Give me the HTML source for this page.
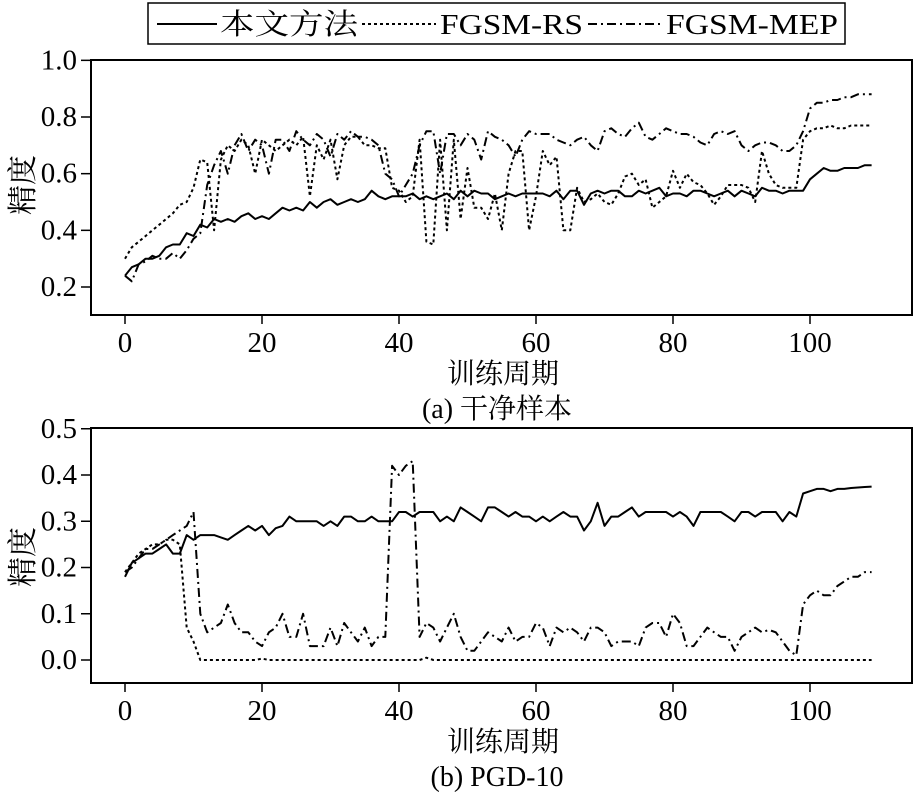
<!DOCTYPE html>
<html><head><meta charset="utf-8"><style>
html,body{margin:0;padding:0;background:#fff;}
svg{display:block;font-family:"Liberation Serif","Noto Serif CJK SC",serif;}
</style></head><body>
<svg id="chart" width="917" height="792" viewBox="0 0 917 792">
<g>
<rect x="148" y="3" width="697" height="41" fill="#fff" stroke="#000" stroke-width="1.5"/>
<line x1="157" y1="24" x2="217" y2="24" stroke="#000" stroke-width="2"/>
<text x="220" y="34" font-size="29" textLength="138" lengthAdjust="spacingAndGlyphs">本文方法</text>
<line x1="362" y1="24" x2="436" y2="24" stroke="#000" stroke-width="2" stroke-dasharray="3,3"/>
<text x="440" y="34" font-size="28" textLength="143" lengthAdjust="spacingAndGlyphs">FGSM-RS</text>
<line x1="588" y1="24" x2="662" y2="24" stroke="#000" stroke-width="2" stroke-dasharray="9,4,2,4"/>
<text x="666" y="34" font-size="28" textLength="172" lengthAdjust="spacingAndGlyphs">FGSM-MEP</text>
</g>
</svg>
<script>
const epochs = Array.from({length:110},(_, i)=>i);
const xTicks = [0,20,40,60,80,100];
const topYTicks = [0.2,0.4,0.6,0.8,1.0];
const topYLabels = ["0.2","0.4","0.6","0.8","1.0"];
const botYTicks = [0.0,0.1,0.2,0.3,0.4,0.5];
const botYLabels = ["0.0","0.1","0.2","0.3","0.4","0.5"];
const cleanOurs = [0.24,0.27,0.28,0.30,0.30,0.31,0.34,0.35,0.35,0.39,0.38,0.42,0.41,0.44,0.43,0.44,0.43,0.45,0.46,0.44,0.45,0.44,0.46,0.48,0.47,0.48,0.47,0.50,0.48,0.50,0.51,0.49,0.50,0.51,0.50,0.51,0.54,0.52,0.51,0.52,0.52,0.52,0.53,0.51,0.52,0.51,0.52,0.53,0.51,0.54,0.52,0.54,0.53,0.53,0.51,0.52,0.53,0.52,0.53,0.53,0.53,0.53,0.52,0.54,0.51,0.54,0.54,0.49,0.53,0.54,0.53,0.54,0.54,0.52,0.52,0.54,0.53,0.54,0.55,0.52,0.53,0.53,0.52,0.54,0.54,0.53,0.52,0.53,0.54,0.52,0.54,0.53,0.52,0.55,0.54,0.54,0.53,0.54,0.54,0.54,0.58,0.60,0.62,0.61,0.61,0.62,0.62,0.62,0.63,0.63];
const cleanRS = [0.30,0.34,0.36,0.38,0.40,0.42,0.44,0.46,0.49,0.50,0.55,0.65,0.64,0.40,0.65,0.70,0.68,0.72,0.70,0.60,0.72,0.70,0.68,0.70,0.72,0.70,0.73,0.52,0.70,0.65,0.72,0.58,0.70,0.73,0.73,0.70,0.70,0.69,0.69,0.55,0.54,0.50,0.52,0.72,0.36,0.35,0.72,0.40,0.72,0.44,0.62,0.48,0.48,0.44,0.53,0.40,0.60,0.68,0.68,0.40,0.52,0.68,0.63,0.66,0.40,0.40,0.55,0.50,0.51,0.53,0.50,0.49,0.53,0.59,0.60,0.56,0.58,0.48,0.50,0.52,0.61,0.55,0.60,0.57,0.56,0.53,0.49,0.52,0.56,0.56,0.56,0.55,0.50,0.68,0.60,0.56,0.55,0.55,0.55,0.72,0.75,0.76,0.76,0.77,0.76,0.76,0.77,0.77,0.77,0.77];
const cleanMEP = [0.24,0.22,0.28,0.29,0.31,0.30,0.30,0.32,0.30,0.33,0.37,0.39,0.56,0.63,0.68,0.60,0.70,0.74,0.68,0.72,0.70,0.60,0.72,0.72,0.68,0.75,0.72,0.70,0.74,0.72,0.66,0.74,0.72,0.75,0.73,0.73,0.72,0.70,0.60,0.58,0.52,0.56,0.60,0.70,0.75,0.75,0.60,0.74,0.74,0.70,0.74,0.72,0.65,0.75,0.73,0.72,0.70,0.66,0.72,0.75,0.74,0.74,0.74,0.72,0.71,0.70,0.72,0.73,0.70,0.68,0.75,0.76,0.74,0.73,0.76,0.78,0.73,0.72,0.74,0.76,0.75,0.74,0.74,0.73,0.71,0.70,0.74,0.75,0.74,0.75,0.70,0.68,0.70,0.71,0.71,0.70,0.68,0.68,0.70,0.75,0.83,0.85,0.85,0.86,0.86,0.87,0.87,0.88,0.88,0.88];
const pgdOurs = [0.18,0.21,0.22,0.23,0.23,0.24,0.25,0.23,0.23,0.27,0.26,0.27,0.27,0.27,0.265,0.26,0.27,0.28,0.29,0.28,0.29,0.27,0.285,0.29,0.31,0.30,0.30,0.30,0.30,0.29,0.30,0.29,0.31,0.31,0.30,0.30,0.31,0.30,0.30,0.30,0.32,0.32,0.31,0.32,0.32,0.32,0.30,0.31,0.30,0.33,0.32,0.31,0.30,0.33,0.33,0.32,0.31,0.32,0.31,0.31,0.30,0.31,0.30,0.31,0.32,0.31,0.31,0.28,0.30,0.34,0.29,0.31,0.31,0.32,0.33,0.31,0.32,0.32,0.32,0.32,0.31,0.32,0.31,0.29,0.32,0.32,0.32,0.32,0.31,0.30,0.32,0.32,0.31,0.32,0.32,0.32,0.30,0.32,0.31,0.36,0.365,0.37,0.37,0.365,0.37,0.37,0.372,0.373,0.374,0.375];
const pgdRS = [0.19,0.21,0.23,0.24,0.25,0.25,0.26,0.26,0.25,0.07,0.04,0.0,0,0,0,0,0,0,0,0,0.003,0,0,0,0,0,0,0,0,0,0,0,0,0,0,0,0,0,0,0,0,0,0,0,0.005,0,0,0,0,0,0,0,0,0,0,0,0,0,0,0,0,0,0,0,0,0,0,0,0,0,0,0,0,0,0,0,0,0,0,0,0,0,0,0,0,0,0,0,0,0,0,0,0,0,0,0,0,0,0,0,0,0,0,0,0,0,0,0,0,0];
const pgdMEP = [0.19,0.20,0.22,0.24,0.24,0.25,0.26,0.27,0.28,0.29,0.32,0.10,0.06,0.07,0.08,0.12,0.08,0.06,0.06,0.04,0.03,0.06,0.07,0.10,0.05,0.05,0.10,0.03,0.03,0.03,0.07,0.03,0.08,0.06,0.04,0.07,0.03,0.05,0.05,0.42,0.40,0.42,0.43,0.05,0.08,0.07,0.04,0.07,0.10,0.05,0.02,0.02,0.04,0.06,0.05,0.04,0.07,0.04,0.05,0.05,0.08,0.07,0.03,0.07,0.06,0.07,0.06,0.04,0.07,0.07,0.06,0.03,0.04,0.04,0.04,0.03,0.07,0.08,0.08,0.05,0.10,0.08,0.03,0.03,0.05,0.07,0.06,0.05,0.05,0.02,0.05,0.06,0.07,0.06,0.065,0.06,0.04,0.02,0.01,0.12,0.14,0.15,0.14,0.14,0.16,0.17,0.18,0.18,0.19,0.19];

const NS="http://www.w3.org/2000/svg";
const svg=document.getElementById('chart');
function mk(tag,attrs,parent){const e=document.createElementNS(NS,tag);for(const k in attrs)e.setAttribute(k,attrs[k]);(parent||svg).appendChild(e);return e;}
const xScale=v=>125+v*6.85;
const styles={ours:"none",rs:"3,3",mep:"9,4,2,4"};

function panel(p){
  const g=mk('g',{});
  
  
  const ys=v=>p.y0+(v-p.v0)*(p.y1-p.y0)/(p.v1-p.v0);
  const box=mk('rect',{x:91,y:p.top,width:821,height:p.bottom-p.top,fill:'none',stroke:'#000','stroke-width':2},g);
  
  
  xTicks.forEach(t=>{
    const l=mk('line',{x1:xScale(t),x2:xScale(t),y1:p.bottom,y2:p.bottom+9,stroke:'#000','stroke-width':1.5},g);
    
    
    const tx=mk('text',{x:xScale(t),y:p.bottom+37,'font-size':29,'text-anchor':'middle'},g);
    tx.textContent=String(t);
    
    
  });
  p.yt.forEach((t,i)=>{
    const l=mk('line',{x1:81,x2:91,y1:ys(t),y2:ys(t),stroke:'#000','stroke-width':1.5},g);
    
    
    const tx=mk('text',{x:77,y:ys(t)+9,'font-size':29,'text-anchor':'end'},g);
    tx.textContent=p.yl[i];
    
    
  });
  p.series.forEach(s=>{
    const d=s.vals.map((v,i)=>(i?'L':'M')+xScale(epochs[i]).toFixed(1)+','+ys(v).toFixed(1)).join(' ');
    const path=mk('path',{d:d,fill:'none',stroke:'#000','stroke-width':2,'stroke-dasharray':styles[s.key],'stroke-linejoin':'round'},g);
    
    
  });
  const yt=mk('text',{x:0,y:0,'font-size':30,'text-anchor':'middle',transform:`translate(33,${p.ytitle}) rotate(-90)`},g);
  yt.textContent='精度';
  
  
  const xt=mk('text',{x:503,y:p.bottom+68,'font-size':28,'text-anchor':'middle'},g);
  xt.textContent='训练周期';
  
  
  const ct=mk('text',{x:497,y:p.bottom+103,'font-size':28,'text-anchor':'middle'},g);
  ct.textContent=p.caption;
  
  
}
panel({name:'panel-clean',top:60,bottom:315,v0:0.2,y0:287,v1:0.8,y1:117,ytitle:185,yt:topYTicks,yl:topYLabels,caption:'(a) 干净样本',
  series:[{key:'ours',name:'line-ours-clean',vals:cleanOurs},{key:'rs',name:'line-fgsm-rs-clean',vals:cleanRS},{key:'mep',name:'line-fgsm-mep-clean',vals:cleanMEP}]});
panel({name:'panel-pgd10',top:428,bottom:683,v0:0,y0:660,v1:0.4,y1:475,ytitle:557,yt:botYTicks,yl:botYLabels,caption:'(b) PGD-10',
  series:[{key:'ours',name:'line-ours-pgd',vals:pgdOurs},{key:'rs',name:'line-fgsm-rs-pgd',vals:pgdRS},{key:'mep',name:'line-fgsm-mep-pgd',vals:pgdMEP}]});
</script>
</body></html>
